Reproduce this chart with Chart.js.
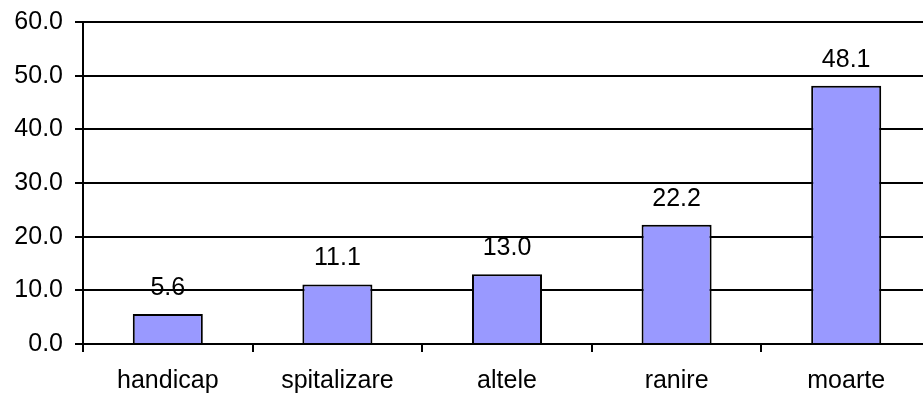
<!DOCTYPE html>
<html>
<head>
<meta charset="utf-8">
<script src="https://cdn.jsdelivr.net/npm/chart.js@4/dist/chart.umd.min.js"></script>
<style>
  html, body { margin: 0; padding: 0; background: #fff; overflow: hidden; }
  #wrap { width: 935px; height: 396px; }
</style>
</head>
<body>
<div id="wrap"><canvas id="chart" width="935" height="396"></canvas></div>
<script>
// Data
const categories = ["handicap", "spitalizare", "altele", "ranire", "moarte"];
const values = [5.6, 11.1, 13.0, 22.2, 48.1];
const yMin = 0;
const yMax = 60;
const yStep = 10;

const FONT = "'Liberation Sans', Arial, sans-serif";
const FONT_SIZE = 25;

// Value labels above bars
const valueLabels = {
  id: "valueLabels",
  afterDatasetsDraw(chart) {
    const { ctx } = chart;
    const meta = chart.getDatasetMeta(0);
    ctx.save();
    ctx.font = FONT_SIZE + "px " + FONT;
    ctx.fillStyle = "#000";
    ctx.textAlign = "center";
    ctx.textBaseline = "alphabetic";
    meta.data.forEach((bar, i) => {
      ctx.fillText(values[i].toFixed(1), bar.x, bar.y - 19);
    });
    ctx.restore();
  },
};

new Chart(document.getElementById("chart"), {
  type: "bar",
  data: {
    labels: categories,
    datasets: [
      {
        data: values,
        backgroundColor: "#9999ff",
        borderColor: "#000",
        borderWidth: 2,
        categoryPercentage: 1,
        barPercentage: 0.413,
      },
    ],
  },
  options: {
    responsive: false,
    devicePixelRatio: 1,
    animation: false,
    layout: { padding: { top: 22, right: 4, left: 0, bottom: 0 } },
    plugins: {
      legend: { display: false },
      tooltip: { enabled: false },
    },
    scales: {
      x: {
        grid: {
          offset: true,
          drawOnChartArea: false,
          color: "#000",
          lineWidth: 2,
          tickLength: 8,
        },
        border: { color: "#000", width: 2 },
        ticks: {
          color: "#000",
          font: { family: FONT, size: FONT_SIZE },
          padding: 14,
          maxRotation: 0,
        },
        afterFit(scale) {
          scale.height = 52;
          scale.paddingLeft = 0;
          scale.paddingRight = 0;
        },
      },
      y: {
        min: yMin,
        max: yMax,
        ticks: {
          stepSize: yStep,
          color: "#000",
          font: { family: FONT, size: FONT_SIZE },
          padding: 12,
          callback: (v) => v.toFixed(1),
        },
        grid: {
          color: "#000",
          lineWidth: 2,
          tickLength: 8,
        },
        border: { color: "#000", width: 2 },
        afterFit(scale) {
          scale.width = 83;
          scale.paddingTop = 0;
          scale.paddingBottom = 0;
        },
      },
    },
  },
  plugins: [valueLabels],
});
</script>
</body>
</html>
